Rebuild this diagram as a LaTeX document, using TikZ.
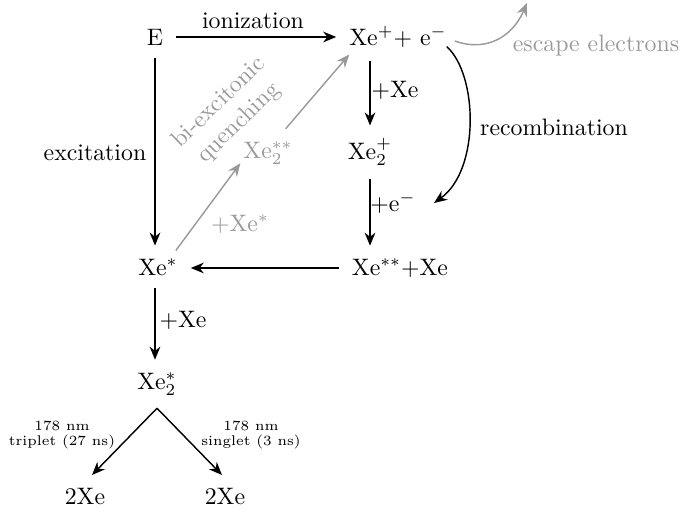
\documentclass[tikz,border=0pt]{standalone}
\usetikzlibrary{arrows.meta}
\definecolor{lg}{gray}{0.6}
\begin{document}
\begin{tikzpicture}[x=0.42pt,y=-0.42pt,
  st/.style={inner sep=5.5pt,outer sep=0pt},
  lab/.style={inner sep=1pt},
  small/.style={font=\fontsize{5.9}{6}\selectfont,align=center,inner sep=0pt},
  arr/.style={semithick,-{Stealth[length=5.5pt,width=4.5pt]}},
  garr/.style={arr,draw=lg},
]
\useasboundingbox (0,0) rectangle (681,513);
% nodes
\node[st] (E) at (155,37) {E};
\node[st] (xe1) at (398,37) {Xe$^+$+ e$^-$};
\node[st] (xe2) at (370,152) {Xe$_2^+$};
\node[st] (xe3) at (400,268) {Xe$^{**}$+Xe};
\node[st] (xe4) at (158,267) {Xe$^*$};
\node[st,text=lg] (xe5) at (268,153) {Xe$_2^{**}$};
\node[st] (xe6) at (157,384) {Xe$_2^*$};
\node[st] (d1) at (85,497) {2Xe};
\node[st] (d2) at (225,497) {2Xe};
% labels
\node[lab] (lion) at (253,21) {ionization};
\node[lab] (lexc) at (95,153) {excitation};
\node[lab] (lrec) at (554,127) {recombination};
\node[lab,text=lg] (lesc) at (596,46) {escape electrons};
\node[lab] (lxe1) at (395,90) {$+$Xe};
\node[lab] (lel) at (393,203) {$+$e$^-$};
\node[lab] (lxe2) at (183,320) {$+$Xe};
\node[lab,text=lg] (lxes) at (240,224) {$+$Xe$^*$};
\node[lab,text=lg,align=center,rotate=44] (lbi) at (229,113) {bi-excitonic\\quenching};
\node[small] (ltrip) at (62,435) {178 nm\\triplet (27 ns)};
\node[small] (lsing) at (251,435) {178 nm\\singlet (3 ns)};
% free ends
\coordinate (recend) at (434,203);
\coordinate (escend) at (527,3);
\coordinate (t1) at (92,475);
\coordinate (t2) at (222,475);
% connectors
\draw[arr] (E) -- (xe1.west |- E);
\draw[arr] (E) -- (xe4.north -| E);
\draw[arr] (xe1.south -| xe2) -- (xe2.north);
\draw[arr] (xe2.south) -- (xe3.north -| xe2);
\draw[arr] (xe3.west) -- (xe4.east |- xe3.west);
\draw[arr] (xe4.south -| E) -- (xe6.north -| E);
\draw[arr] (xe6.south) -- (t1);
\draw[arr] (xe6.south) -- (t2);
\draw[arr] ([shift={(-13,-14)}]xe1.south east) .. controls (478,75) and (480,170) .. (recend);
\draw[garr] ([shift={(-5,4)}]xe1.east) .. controls (485,52) and (512,38) .. (escend);
\draw[garr] ([shift={(-15,5)}]xe4.north east) -- ([shift={(10,-14)}]xe5.south west);
\draw[garr] ([shift={(-20,0)}]xe5.north east) -- ([shift={(13,-6)}]xe1.south west);
\end{tikzpicture}
\end{document}
